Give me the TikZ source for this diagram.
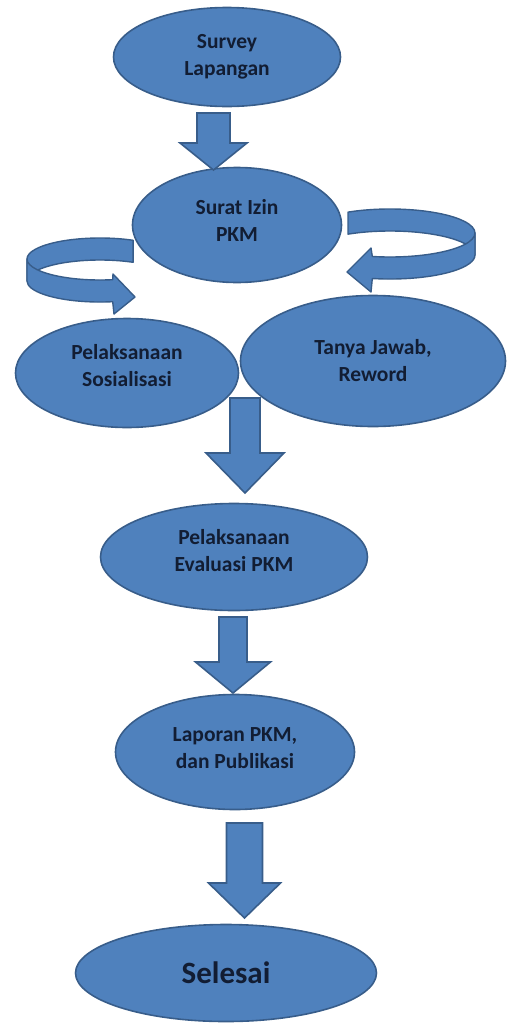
\documentclass[tikz,border=0pt]{standalone}
\usepackage{fontspec}
\setmainfont{Carlito}
\usetikzlibrary{shapes.geometric}
\definecolor{boxblue}{HTML}{4F81BD}
\definecolor{boxline}{HTML}{385D8A}
\definecolor{textnavy}{HTML}{121D33}
\tikzset{
  stage/.style={ellipse,draw=boxline,fill=boxblue,line width=1.6pt,inner sep=0pt,
    align=center,text=textnavy,font=\bfseries\fontsize{21.5}{27}\selectfont},
  ribbon/.style={draw=boxline,fill=boxblue,line width=1.4pt,line join=round},
  blockfill/.style={draw=boxline,fill=boxblue,line width=1.6pt}
}
% x, top, head, tip, shaft half width, head half width
\newcommand{\blockarrow}[6]{%
  \draw[blockfill] (#1-#5,#2) -- (#1+#5,#2) -- (#1+#5,#3) -- (#1+#6,#3)
    -- (#1,#4) -- (#1-#6,#3) -- (#1-#5,#3) -- cycle;}
\begin{document}
\begin{tikzpicture}[x=1pt,y=-1pt]
\useasboundingbox (0,0) rectangle (508,1023);

% ribbon on the left
\draw[ribbon] (100,259) ++(-63:73 and 21)
  arc[start angle=-63,end angle=-180,x radius=73,y radius=21] -- ++(0,22)
  arc[start angle=-180,end angle=-63,x radius=73,y radius=21] -- cycle;
\draw[ribbon] (100,259) ++(-180:73 and 21)
  arc[start angle=-180,end angle=-280,x radius=73,y radius=21]
  -- (113,274) -- (135,297) -- (114,314) -- (112.7,301.7)
  arc[start angle=-280,end angle=-180,x radius=73,y radius=21] -- cycle;

% ribbon on the right
\draw[ribbon] (390,233) ++(-119.6:85 and 24)
  arc[start angle=-119.6,end angle=0,x radius=85,y radius=24] -- ++(0,22)
  arc[start angle=0,end angle=-119.6,x radius=85,y radius=24] -- cycle;
\draw[ribbon] (390,233) ++(0:85 and 24)
  arc[start angle=0,end angle=102,x radius=85,y radius=24]
  -- (371,248) -- (347,272) -- (371,292) -- (372.3,278.5)
  arc[start angle=102,end angle=0,x radius=85,y radius=24] -- cycle;

\node[stage,minimum width=227,minimum height=99] (survey) at (227,57) {Survey\\Lapangan};
\node[stage,minimum width=209,minimum height=115] (surat) at (237,225) {Surat Izin\\PKM\\[-17pt]{}};
\node[stage,minimum width=223,minimum height=109] (sosialisasi) at (127,373) {Pelaksanaan\\Sosialisasi\\[-12pt]{}};
\node[stage,minimum width=265,minimum height=131] (tanya) at (373,361) {Tanya Jawab,\\Reword};
\node[stage,minimum width=267,minimum height=107] (evaluasi) at (234,557) {Pelaksanaan\\Evaluasi PKM\\[-13pt]{}};
\node[stage,minimum width=239,minimum height=115] (laporan) at (235,752) {Laporan PKM,\\dan Publikasi\\[-19pt]{}};
\node[stage,minimum width=301,minimum height=97,font=\bfseries\fontsize{31}{34}\selectfont] (selesai) at (226,973) {Selesai};

\blockarrow{213.5}{113}{143}{170}{16.5}{33.5}
\blockarrow{245}{398}{453}{493}{15}{39}
\blockarrow{233}{617}{662}{693}{14}{37.5}
\blockarrow{244.5}{823}{883}{918}{18}{36}
\end{tikzpicture}
\end{document}
